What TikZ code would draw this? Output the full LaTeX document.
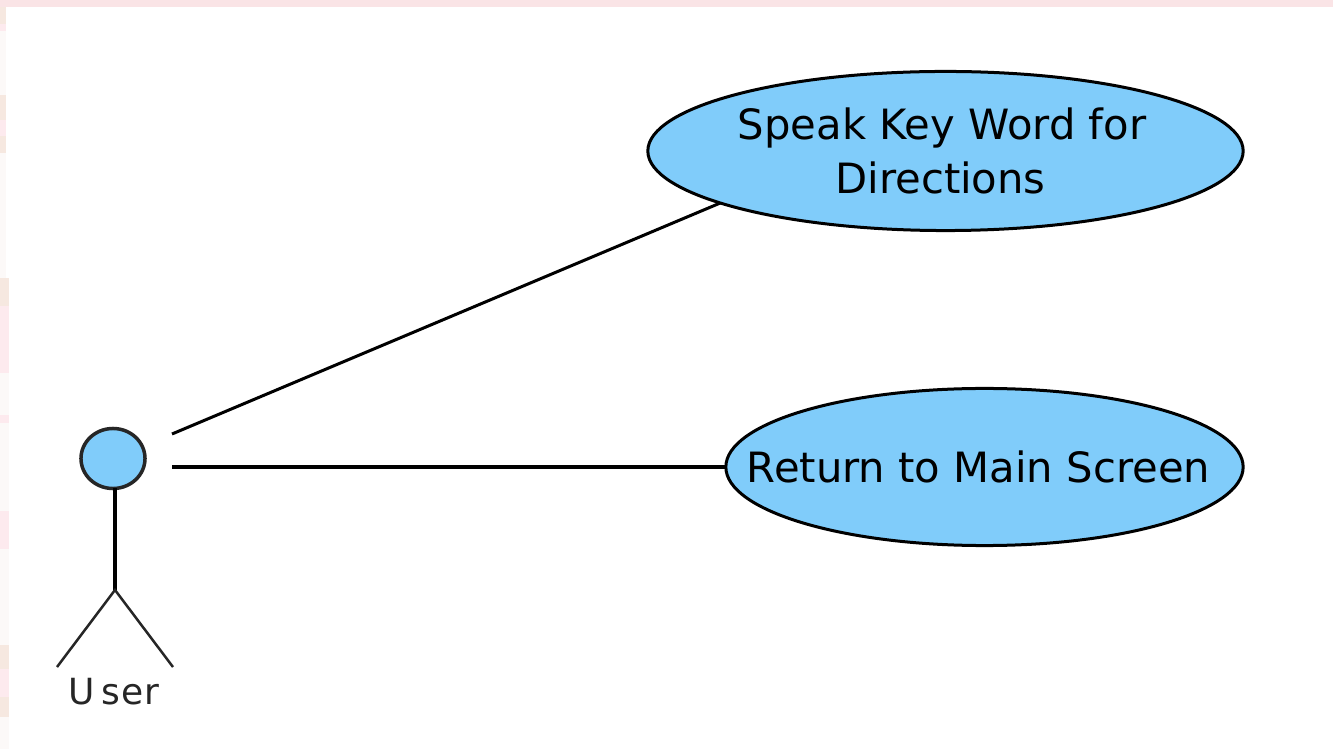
\documentclass[tikz,border=0pt]{standalone}
\usepackage{fontspec}
\setmainfont{DejaVu Sans}
\usetikzlibrary{shapes.geometric}
\definecolor{ucfill}{RGB}{128,204,250}
\definecolor{edgepink}{RGB}{250,228,230}
\definecolor{bandbeige}{RGB}{246,232,224}
\definecolor{bandrose}{RGB}{253,234,238}
\definecolor{bandpale}{RGB}{252,249,248}
\newcommand{\uctext}[2]{\makebox[0pt]{#1\kern #2}}
\tikzset{
  usecase/.style={draw=black,line width=0.03cm,fill=ucfill,ellipse,inner sep=0pt,outer sep=0pt,align=center,font=\fontsize{0.417cm}{0.54cm}\selectfont},
  assocdiag/.style={draw=black,line width=0.03cm},
  assocflat/.style={draw=black,line width=0.04cm},
  stick/.style={draw=black,line width=0.035cm},
  limb/.style={draw=black!85,line width=0.025cm},
  actorhead/.style={draw=black!85,line width=0.035cm,fill=ucfill,ellipse,inner sep=0pt,outer sep=0pt,minimum width=0.64cm,minimum height=0.6cm},
  actorlabel/.style={inner sep=0pt,text=black!85,font=\fontsize{0.36cm}{0.36cm}\selectfont}
}
\begin{document}
\begin{tikzpicture}[x=0.01cm,y=-0.01cm]
\useasboundingbox (0,0) rectangle (1333,749);
\fill[bandpale] (0,0) rectangle (1333,749);
\fill[edgepink] (0,0) rectangle (1333,7);
\foreach \ya/\yb/\c in {7/24/bandbeige,24/31/bandrose,95/120/bandbeige,120/136/bandrose,136/153/bandbeige,278/306/bandbeige,306/373/bandrose,415/423/bandrose,511/549/bandrose,645/669/bandbeige,669/697/bandrose,697/717/bandbeige}
  \fill[\c] (0,\ya) rectangle (9,\yb);
\fill[white] (6,7) rectangle (1333,278);
\fill[white] (9,278) rectangle (1333,749);
\node[usecase,minimum width=5.95cm,minimum height=1.59cm] (speak) at (945.5,151) {\uctext{Speak Key Word for}{0.07cm}\\\uctext{Directions}{0.1cm}};
\node[usecase,minimum width=5.17cm,minimum height=1.57cm] (ret) at (984.5,467) {\uctext{Return to Main Screen}{0.12cm}};
\node[actorhead] (head) at (113,458.5) {};
\coordinate (hip) at (115,590);
\coordinate (neck) at (115,488);
\coordinate (footl) at (57,667);
\coordinate (footr) at (173,667);
\coordinate (a1) at (172,434);
\coordinate (a2) at (172,467);
\draw[stick] (neck) -- (hip);
\draw[limb] (footl) -- (hip) -- (footr);
\node[actorlabel] (user) at (114,692) {U\kern0.06cm s\kern0.01cm e\kern0.01cm r};
\draw[assocdiag] (a1) -- (speak.193);
\draw[assocflat] (a2) -- (ret.west);
\end{tikzpicture}
\end{document}
